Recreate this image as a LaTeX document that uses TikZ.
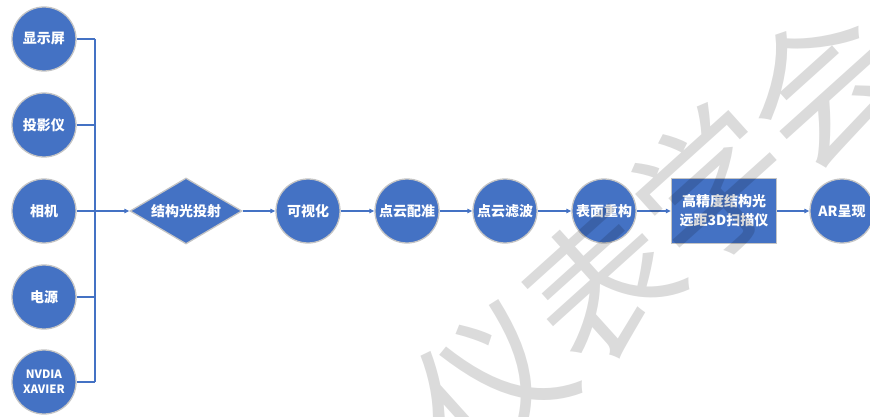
\documentclass[tikz,border=0pt]{standalone}
\usepackage{fontspec}
\setmainfont{Noto Sans CJK SC}
\usetikzlibrary{shapes.geometric,arrows.meta}
\definecolor{nodeblue}{HTML}{4472C4}
\definecolor{rimgray}{HTML}{C4C4C4}
\begin{document}
\begin{tikzpicture}[x=1pt,y=-1pt,
  base/.style={fill=nodeblue,draw=rimgray,line width=1.3pt,inner sep=0pt,text=white,
    font=\bfseries\fontsize{14}{17}\selectfont,align=center},
  circ/.style={base,circle,minimum size=64pt},
  diam/.style={base,diamond,aspect=1.7,minimum width=112pt,minimum height=66pt},
  boxnode/.style={base,rectangle,minimum width=105pt,minimum height=65pt},
  conn/.style={draw=nodeblue,line width=1.2pt},
  arr/.style={conn,-{Triangle[length=5pt,width=4.5pt]}},
  wm/.style={font=\fontsize{148}{148}\selectfont,text=black,opacity=0.14,rotate=42}]
\useasboundingbox (0,0) rectangle (870,417);
\clip (0,0) rectangle (870,417);
% left column
\node[circ] (d1) at (44,39) {显示屏};
\node[circ] (d2) at (44,125) {投影仪};
\node[circ] (d3) at (44,211) {相机};
\node[circ] (d4) at (44,297) {电源};
\node[circ,font=\bfseries\fontsize{11.5}{15}\selectfont] (d5) at (44,382) {NVDIA\\XAVIER};
\coordinate (b1) at (95,39);
\coordinate (b2) at (95,125);
\coordinate (b3) at (95,211);
\coordinate (b4) at (95,297);
\coordinate (b5) at (95,382);
% main chain
\node[diam] (dia) at (186,211) {结构光投射};
\node[circ] (vis) at (308,211) {可视化};
\node[circ] (reg) at (407,211) {点云配准};
\node[circ] (filt) at (505,211) {点云滤波};
\node[circ] (rec) at (604,211) {表面重构};
\node[boxnode,font=\bfseries\fontsize{14}{19}\selectfont] (scan) at (724,211) {高精度结构光\\远距3D扫描仪};
\node[circ] (ar) at (842,211) {AR呈现};
% connectors
\draw[conn] (d1) -- (b1);
\draw[conn] (d2) -- (b2);
\draw[conn] (d3) -- (b3);
\draw[conn] (d4) -- (b4);
\draw[conn] (d5) -- (b5);
\draw[conn] (b1) -- (b5);
\draw[arr] (b3) -- (dia);
\draw[arr] (dia) -- (vis);
\draw[arr] (vis) -- (reg);
\draw[arr] (reg) -- (filt);
\draw[arr] (filt) -- (rec);
\draw[arr] (rec) -- (scan);
\draw[arr] (scan) -- (ar);
% watermark
\node[wm] (mark) at (656,234) {仪表学会};
\end{tikzpicture}
\end{document}
